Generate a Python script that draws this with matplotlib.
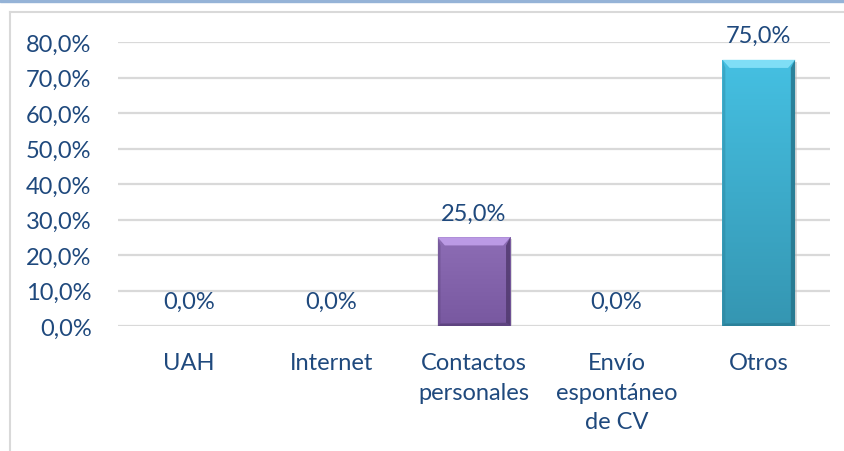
import numpy as np
import matplotlib.pyplot as plt
from matplotlib.patches import Rectangle, Polygon
from matplotlib.colors import LinearSegmentedColormap

# datos
categorias = ['UAH', 'Internet', 'Contactos\npersonales', 'Envío\nespontáneo\nde CV', 'Otros']
valores = [0.0, 0.0, 25.0, 0.0, 75.0]
ticks_y = [0, 10, 20, 30, 40, 50, 60, 70, 80]

# colores por barra: (arriba, abajo, bisel claro, borde oscuro)
colores = {
    2: ('#8d6db5', '#7858a0', '#c4a3ee', '#4e376b'),
    4: ('#45c0e2', '#3596b2', '#8ae4fa', '#25738a'),
}
texto_color = '#1F497D'

plt.rcParams['font.family'] = ['Lato', 'DejaVu Sans']

fig = plt.figure(figsize=(8.45, 4.52), dpi=100)
ax = fig.add_axes([118 / 845, 1 - 327 / 452, 712 / 845, 284 / 452])

# marco exterior
fig.patches.append(Rectangle((0, 1 - 3 / 452), 1, 3 / 452, transform=fig.transFigure,
                             color='#95b3d7', zorder=0))
fig.lines.append(plt.Line2D([10 / 845, 10 / 845], [0, 1 - 13 / 452], transform=fig.transFigure,
                            color='#d9d9d9', lw=1.5))
fig.lines.append(plt.Line2D([10 / 845, 1], [1 - 13 / 452, 1 - 13 / 452], transform=fig.transFigure,
                            color='#d9d9d9', lw=1.5))

x = np.arange(len(categorias))
ancho = 0.51
ax.set_xlim(-0.5, len(categorias) - 0.5)
ax.set_ylim(0, 80)

# rejilla
for t in ticks_y:
    ax.axhline(t, color='#d9d9d9', lw=1.6, zorder=0)

# barras con efecto bisel
bx = 0.05   # bisel horizontal (unidades de categoría)
by = 2.3    # bisel vertical (unidades de datos)
for i, v in enumerate(valores):
    if v > 0:
        arriba, abajo, claro, oscuro = colores[i]
        x0, x1 = x[i] - ancho / 2, x[i] + ancho / 2
        # sombra
        ax.add_patch(Rectangle((x0 + 0.01, -0.6), ancho, v, color='#bbbbbb', alpha=0.5, zorder=1, lw=0))
        barra = ax.bar(x[i], v, width=ancho, color=arriba, zorder=2, lw=0)[0]
        cmap = LinearSegmentedColormap.from_list('g', [arriba, abajo])
        img = ax.imshow(np.linspace(0, 1, 100).reshape(-1, 1), cmap=cmap, aspect='auto',
                        extent=(x0, x1, 0, v), zorder=2.1)
        img.set_clip_path(barra)
        # bisel superior
        ax.add_patch(Polygon([(x0, v), (x1, v), (x1 - bx, v - by), (x0 + bx, v - by)],
                             color=claro, zorder=3, lw=0, alpha=0.85))
        # bisel derecho
        ax.add_patch(Polygon([(x1, v), (x1, 0), (x1 - bx * 0.6, by * 0.4), (x1 - bx * 0.6, v - by)],
                             color=oscuro, zorder=3, lw=0, alpha=0.8))
        # bisel izquierdo
        ax.add_patch(Polygon([(x0, v), (x0, 0), (x0 + bx * 0.4, by * 0.3), (x0 + bx * 0.4, v - by)],
                             color=oscuro, zorder=3, lw=0, alpha=0.3))
        # bisel inferior
        ax.add_patch(Polygon([(x0, 0), (x1, 0), (x1 - bx * 0.6, by * 0.4), (x0 + bx * 0.4, by * 0.3)],
                             color=oscuro, zorder=3, lw=0, alpha=0.6))

# etiquetas de datos
for i, v in enumerate(valores):
    ax.annotate(f'{v:.1f}%'.replace('.', ','), (x[i], v), xytext=(0, 10), textcoords='offset points',
                ha='center', va='bottom', fontsize=17, color=texto_color, annotation_clip=False)

ax.set_xticks(x)
ax.set_xticklabels(categorias, fontsize=17, color=texto_color, linespacing=1.5)
ax.set_yticks(ticks_y)
ax.set_yticklabels([f'{t:.1f}%'.replace('.', ',') for t in ticks_y], fontsize=17, color=texto_color)
ax.tick_params(axis='both', length=0)
ax.tick_params(axis='x', pad=19)
ax.tick_params(axis='y', pad=19)
for s in ax.spines.values():
    s.set_visible(False)

fig.savefig('out.png', dpi=100)
